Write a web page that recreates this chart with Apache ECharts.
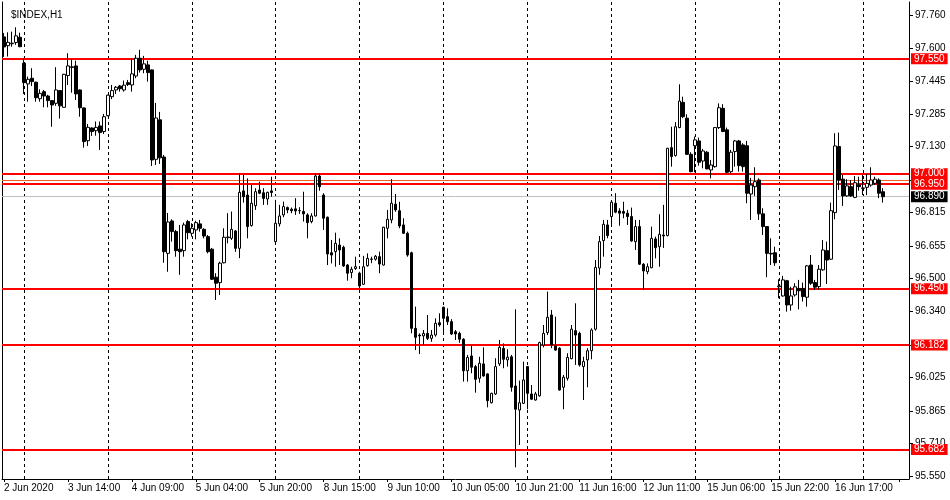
<!DOCTYPE html>
<html><head><meta charset="utf-8">
<script src="https://cdn.jsdelivr.net/npm/echarts@6/dist/echarts.min.js"></script>
<style>html,body{margin:0;padding:0;background:#fff}#c{width:950px;height:500px}</style>
</head><body><div id="c"></div><script>
const chartTitle = '$INDEX,H1';
const open = [97.655,97.613,97.622,97.628,97.653,97.529,97.430,97.457,97.438,97.359,
97.393,97.372,97.350,97.337,97.398,97.318,97.470,97.509,97.516,97.401,
97.315,97.158,97.219,97.206,97.229,97.202,97.278,97.369,97.401,97.420,
97.401,97.436,97.425,97.468,97.553,97.500,97.521,97.497,97.069,97.258,
97.080,96.619,96.774,96.723,96.639,96.632,96.771,96.715,96.731,96.760,
96.734,96.699,96.639,96.505,96.479,96.574,96.694,96.691,96.726,96.643,
96.918,96.898,96.752,96.847,96.922,96.909,96.879,96.918,96.675,96.760,
96.803,96.838,96.830,96.832,96.823,96.819,96.803,96.771,96.798,96.989,
96.898,96.792,96.622,96.627,96.659,96.648,96.563,96.527,96.546,96.524,
96.471,96.560,96.590,96.591,96.603,96.563,96.739,96.779,96.854,96.823,
96.755,96.715,96.622,96.260,96.228,96.224,96.236,96.212,96.228,96.287,
96.361,96.316,96.292,96.244,96.236,96.208,96.057,96.128,96.077,96.021,
96.090,96.042,95.904,95.946,96.090,96.164,96.109,96.124,95.984,95.869,
95.901,96.077,95.946,95.917,95.937,96.180,96.240,96.324,96.176,96.165,
95.978,96.021,96.115,96.249,96.236,96.077,96.109,96.153,96.256,96.549,
96.680,96.755,96.795,96.859,96.822,96.819,96.811,96.795,96.675,96.747,
96.567,96.531,96.550,96.688,96.651,96.707,96.704,97.125,97.087,97.221,
97.342,97.266,97.093,97.134,97.157,97.061,97.103,97.018,97.034,97.221,
97.313,97.210,97.010,97.106,97.157,97.138,97.134,96.903,96.938,96.970,
96.808,96.747,96.619,96.622,96.459,96.415,96.488,96.372,96.420,96.451,
96.451,96.409,96.563,96.479,96.460,96.540,96.632,96.591,96.814,97.130,
96.974,96.894,96.938,96.887,96.946,96.930,96.935,96.946,96.954,96.970,
96.914];
const close = [97.607,97.629,97.625,97.660,97.608,97.436,97.452,97.441,97.364,97.385,
97.372,97.350,97.329,97.401,97.325,97.476,97.516,97.512,97.382,97.316,
97.154,97.222,97.202,97.222,97.197,97.273,97.376,97.398,97.414,97.407,
97.424,97.427,97.478,97.553,97.497,97.526,97.484,97.066,97.267,97.076,
96.627,96.769,96.723,96.632,96.627,96.755,96.718,96.739,96.766,96.739,
96.702,96.627,96.495,96.476,96.572,96.696,96.697,96.734,96.643,96.911,
96.890,96.747,96.859,96.914,96.907,96.882,96.911,96.910,96.763,96.798,
96.843,96.827,96.823,96.822,96.824,96.808,96.766,96.798,96.989,96.938,
96.787,96.616,96.611,96.667,96.635,96.559,96.524,96.543,96.555,96.463,
96.555,96.595,96.592,96.605,96.568,96.744,96.782,96.859,96.827,96.750,
96.715,96.611,96.260,96.217,96.224,96.236,96.212,96.228,96.284,96.276,
96.308,96.292,96.233,96.233,96.208,96.057,96.121,96.074,96.016,96.093,
96.032,95.914,95.949,96.077,96.169,96.112,96.122,95.978,95.873,95.904,
96.013,95.949,95.921,95.946,96.192,96.236,96.313,96.180,96.156,95.965,
96.026,96.121,96.256,96.228,96.085,96.101,96.153,96.252,96.552,96.675,
96.758,96.704,96.864,96.816,96.811,96.811,96.795,96.678,96.747,96.567,
96.535,96.555,96.691,96.646,96.710,96.702,97.122,97.082,97.225,97.348,
97.273,97.093,97.010,97.162,97.055,97.109,97.023,97.042,97.221,97.316,
97.202,97.007,97.103,97.157,97.039,97.034,96.907,96.946,96.962,96.808,
96.747,96.619,96.616,96.574,96.463,96.492,96.372,96.415,96.459,96.440,
96.412,96.559,96.476,96.457,96.543,96.635,96.587,96.823,97.133,96.970,
96.894,96.942,96.894,96.957,96.938,96.932,96.954,96.970,96.974,96.907,
96.890];
const low = [97.559,97.561,97.608,97.617,97.606,97.382,97.345,97.420,97.345,97.345,
97.318,97.318,97.225,97.325,97.264,97.316,97.425,97.388,97.353,97.273,
97.125,97.133,97.181,97.182,97.114,97.190,97.275,97.357,97.382,97.393,
97.393,97.420,97.393,97.457,97.484,97.481,97.441,97.037,97.042,97.047,
96.574,96.531,96.675,96.603,96.516,96.603,96.686,96.699,96.686,96.723,
96.691,96.619,96.492,96.396,96.420,96.571,96.667,96.683,96.626,96.596,
96.862,96.691,96.747,96.827,96.902,96.851,96.851,96.890,96.659,96.747,
96.792,96.811,96.811,96.803,96.808,96.771,96.691,96.763,96.795,96.919,
96.731,96.563,96.571,96.555,96.563,96.554,96.488,96.500,96.540,96.452,
96.468,96.555,96.572,96.584,96.524,96.561,96.691,96.763,96.818,96.739,
96.712,96.603,96.236,96.156,96.137,96.180,96.204,96.196,96.220,96.268,
96.236,96.276,96.228,96.204,96.191,96.005,96.005,96.045,95.952,96.000,
96.029,95.882,95.901,95.941,96.080,96.069,96.077,95.957,95.595,95.702,
95.898,95.873,95.917,95.914,95.933,96.169,96.228,96.165,96.153,95.962,
95.873,96.010,96.112,96.085,96.077,95.917,95.978,96.112,96.249,96.516,
96.603,96.691,96.747,96.811,96.751,96.787,96.755,96.675,96.635,96.563,
96.444,96.519,96.548,96.595,96.555,96.645,96.700,97.034,97.082,97.218,
97.266,97.090,97.007,97.007,97.039,97.026,97.023,96.978,97.029,97.214,
97.199,97.002,97.002,97.034,97.010,97.010,96.859,96.779,96.894,96.779,
96.707,96.505,96.563,96.559,96.404,96.412,96.340,96.345,96.412,96.351,
96.388,96.364,96.468,96.444,96.447,96.536,96.472,96.587,96.782,96.922,
96.846,96.890,96.889,96.883,96.919,96.898,96.898,96.938,96.946,96.883,
96.862];
const high = [97.674,97.677,97.680,97.701,97.675,97.553,97.465,97.505,97.441,97.404,
97.401,97.378,97.353,97.510,97.401,97.478,97.577,97.548,97.541,97.403,
97.317,97.238,97.222,97.250,97.250,97.286,97.378,97.425,97.420,97.425,
97.446,97.449,97.553,97.569,97.593,97.564,97.541,97.499,97.339,97.296,
97.090,96.812,96.782,96.731,96.755,96.766,96.779,96.763,96.775,96.779,
96.739,96.707,96.645,96.524,96.579,96.739,96.811,96.819,96.731,97.002,
96.994,96.978,96.946,96.931,96.962,96.931,96.914,96.986,96.875,96.851,
96.867,96.843,96.838,96.883,96.840,96.914,96.811,96.811,97.002,97.002,
96.907,96.795,96.683,96.718,96.691,96.656,96.568,96.555,96.603,96.531,
96.607,96.619,96.603,96.611,96.627,96.746,96.827,96.974,96.903,96.866,
96.787,96.723,96.627,96.364,96.236,96.252,96.324,96.252,96.308,96.332,
96.364,96.356,96.304,96.252,96.244,96.213,96.133,96.176,96.085,96.124,
96.169,96.045,95.952,96.117,96.204,96.188,96.160,96.133,96.351,96.010,
96.101,96.080,95.989,95.956,96.196,96.276,96.436,96.348,96.316,96.170,
96.037,96.141,96.276,96.380,96.244,96.124,96.165,96.260,96.587,96.702,
96.779,96.779,96.866,96.907,96.835,96.866,96.827,96.838,96.779,96.779,
96.572,96.571,96.747,96.699,96.806,96.851,97.124,97.225,97.247,97.428,
97.369,97.285,97.103,97.178,97.173,97.119,97.109,97.066,97.222,97.337,
97.333,97.221,97.114,97.162,97.162,97.146,97.157,96.980,97.031,96.978,
96.835,96.750,96.691,96.651,96.495,96.511,96.492,96.459,96.476,96.492,
96.479,96.563,96.611,96.492,96.563,96.683,96.675,96.862,97.194,97.197,
96.994,96.974,96.970,96.989,96.986,96.994,96.998,97.031,96.986,96.978,
96.931];
const timeLabels = ['2 Jun 2020','3 Jun 14:00','4 Jun 09:00','5 Jun 04:00','5 Jun 20:00','8 Jun 15:00','9 Jun 10:00','10 Jun 05:00','10 Jun 21:00','11 Jun 16:00','12 Jun 11:00','15 Jun 06:00','15 Jun 22:00','16 Jun 17:00'];
const priceTicks = [95.550,95.710,95.865,96.025,96.180,96.340,96.500,96.655,96.815,96.970,97.130,97.285,97.445,97.600,97.760];
const redLevels = [97.550,97.000,96.950,96.450,96.182,95.682];
const bidLevel = 96.890;
const askLevel = 96.973;
const yMin = 95.539, yMax = 97.822;
const slotCount = 227;
const labelEvery = 16;
const gridFirst = 5, gridEvery = 21;

const FONT = 'Liberation Sans';
const categories = Array.from({length: slotCount}, (_, i) => String(i));
const candles = open.map((o, i) => [o, close[i], low[i], high[i]]);

const marks = [];
for (let i = gridFirst; i < slotCount; i += gridEvery) {
  marks.push({xAxis: i, lineStyle: {color: '#000', width: 1, type: [3, 3]}, label: {show: false}});
}
marks.push({yAxis: askLevel, lineStyle: {color: '#f06020', width: 1, type: 'solid'}, label: {show: false}});
marks.push({yAxis: bidLevel, name: bidLevel.toFixed(3), lineStyle: {color: '#c0c0c0', width: 1, type: 'solid'},
  label: {show: true, backgroundColor: '#000'}});
redLevels.forEach(v => marks.push({yAxis: v, name: v.toFixed(3), lineStyle: {color: '#ff0000', width: 2, type: 'solid'},
  label: {show: true, backgroundColor: '#ff0000'}}));

const chart = echarts.init(document.getElementById('c'), null, {renderer: 'canvas'});
chart.setOption({
  animation: false,
  backgroundColor: '#fff',
  textStyle: {fontFamily: FONT},
  title: {text: chartTitle, left: 6, top: 5,
    textStyle: {fontSize: 10, fontWeight: 'normal', color: '#000', fontFamily: FONT}},
  grid: {left: 2, top: 2, right: 41, bottom: 21, show: false},
  xAxis: {
    type: 'category', data: categories, boundaryGap: true,
    axisLine: {show: true, lineStyle: {color: '#000', width: 1}},
    axisTick: {show: true, alignWithLabel: true, interval: labelEvery - 1, length: 3, lineStyle: {color: '#000'}},
    axisLabel: {interval: labelEvery - 1, align: 'left', margin: 4, fontSize: 10, color: '#000', fontFamily: FONT,
      formatter: (v, idx) => timeLabels[idx / labelEvery] || ''},
    splitLine: {show: false}
  },
  yAxis: [{
    type: 'value', position: 'right', min: yMin, max: yMax, scale: true,
    axisLine: {show: true, lineStyle: {color: '#000', width: 1}},
    axisTick: {show: true, customValues: priceTicks, length: 4, lineStyle: {color: '#000'}},
    axisLabel: {customValues: priceTicks, margin: 6, fontSize: 10, color: '#000', fontFamily: FONT,
      formatter: v => v.toFixed(3)},
    splitLine: {show: false}
  }, {
    type: 'value', position: 'left', min: yMin, max: yMax,
    axisLine: {show: true, lineStyle: {color: '#000', width: 1}},
    axisTick: {show: false}, axisLabel: {show: false}, splitLine: {show: false}
  }],
  series: [{
    type: 'candlestick', data: candles, barWidth: 3, z: 5,
    itemStyle: {color: '#fff', color0: '#000', borderColor: '#000', borderColor0: '#000', borderWidth: 1},
    markLine: {
      symbol: ['none', 'none'], silent: true, animation: false,
      label: {position: 'end', distance: 2, color: '#fff', fontSize: 10, fontFamily: FONT,
        padding: [1, 3, 0, 3], formatter: p => p.name},
      data: marks
    }
  }]
});
</script></body></html>
